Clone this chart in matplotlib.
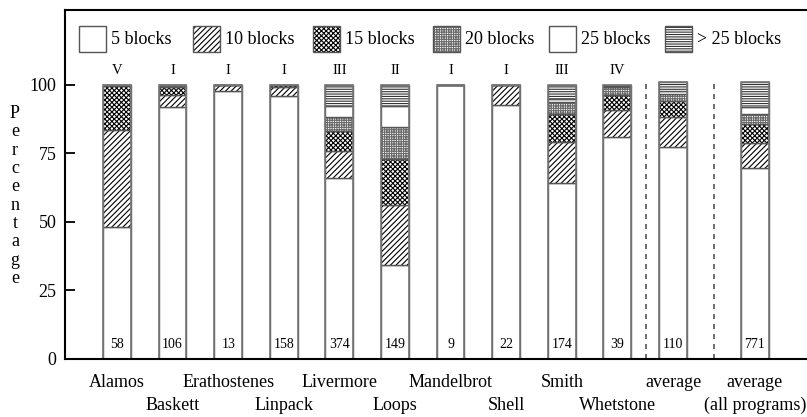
import numpy as np
import matplotlib.pyplot as plt
from matplotlib.patches import Rectangle

plt.rcParams['font.family'] = 'Liberation Serif'
plt.rcParams['hatch.linewidth'] = 0.8

programs = ['Alamos', 'Baskett', 'Erathostenes', 'Linpack', 'Livermore', 'Loops',
            'Mandelbrot', 'Shell', 'Smith', 'Whetstone', 'average', 'average\n(all programs)']
xpos = [0, 1, 2, 3, 4, 5, 6, 7, 8, 9, 10, 11.47]
classes = ['V', 'I', 'I', 'I', 'III', 'II', 'I', 'I', 'III', 'IV', '', '']
counts = [58, 106, 13, 158, 374, 149, 9, 22, 174, 39, 110, 771]

# percentage of loops per block-count class
b5 = [48.1, 91.8, 97.7, 95.8, 66.0, 34.1, 100.0, 92.6, 64.2, 81.0, 77.1, 69.4]
b10 = [35.2, 4.5, 2.3, 3.2, 9.7, 22.0, 0.0, 7.4, 14.9, 9.7, 11.2, 9.4]
b15 = [16.2, 2.7, 0.0, 1.0, 7.3, 16.8, 0.0, 0.0, 10.0, 5.5, 5.8, 6.7]
b20 = [0.5, 1.0, 0.0, 0.0, 5.3, 11.5, 0.0, 0.0, 4.4, 2.9, 2.4, 3.7]
b25 = [0.0, 0.0, 0.0, 0.0, 4.0, 7.9, 0.0, 0.0, 1.1, 0.4, 1.2, 2.7]
bmore = [0.0, 0.0, 0.0, 0.0, 7.7, 7.7, 0.0, 0.0, 5.4, 0.5, 3.2, 9.0]

series = [b5, b10, b15, b20, b25, bmore]
names = ['5 blocks', '10 blocks', '15 blocks', '20 blocks', '25 blocks', '> 25 blocks']
hatches = ['', '//////', 'xxxxxxx', '+++++++', '', '-------']
hcolors = ['white', 'black', 'black', '#6a6a6a', 'white', '#333333']

fig = plt.figure(figsize=(8.07, 4.17), dpi=100)
ax = fig.add_axes([65/807, 58.5/417, 742/807, 348.5/417])

width = 0.5
bottom = np.zeros(len(xpos))
for vals, h, hc in zip(series, hatches, hcolors):
    vals = np.array(vals)
    ax.bar(xpos, vals, width, bottom=bottom, color='white', edgecolor=hc,
           hatch=h, linewidth=0)
    ax.bar(xpos, vals, width, bottom=bottom, fill=False, edgecolor='#555555',
           linewidth=1.0)
    bottom += vals

# outline of each full bar
ax.bar(xpos, bottom, width, fill=False, edgecolor='#777777', linewidth=1.2)

for x, n, c in zip(xpos, counts, classes):
    ax.text(x, 5, str(n), ha='center', va='center', fontsize=10)
    if c:
        ax.text(x, 105.3, c, ha='center', va='center', fontsize=10.5)

for xd in [9.51, 10.74]:
    ax.plot([xd, xd], [0, 100.8], color='#555555', lw=1.2, ls=(0, (3, 3)))

# two rows of program names
for i, (x, name) in enumerate(zip(xpos, programs)):
    if '\n' in name:
        top, low = name.split('\n')
        ax.text(x, -8.9, top, ha='center', va='center', fontsize=13)
        ax.text(x, -17.0, low, ha='center', va='center', fontsize=13)
    elif i % 2 == 0 or name == 'average':
        ax.text(x, -8.9, name, ha='center', va='center', fontsize=13)
    else:
        ax.text(x, -17.0, name, ha='center', va='center', fontsize=13)

# legend row drawn by hand inside the frame
leg_x = [79, 193, 313, 433, 549, 665]
sw, sh = 27 / 742, 26 / 348.5
sy = (358.5 - 52) / 348.5
for lx, name, h, hc in zip(leg_x, names, hatches, hcolors):
    ax0 = (lx - 65) / 742
    ax.add_patch(Rectangle((ax0, sy), sw, sh, transform=ax.transAxes,
                           facecolor='white', edgecolor=hc, hatch=h, linewidth=0))
    ax.add_patch(Rectangle((ax0, sy), sw, sh, transform=ax.transAxes,
                           fill=False, edgecolor='#555555', linewidth=1.0))
    ax.text(ax0 + sw + 5 / 742, sy + sh / 2, name, transform=ax.transAxes,
            ha='left', va='center', fontsize=13)

ax.set_xlim(-0.935, 12.41)
ax.set_ylim(0, 127.2)
ax.set_xticks([])
ax.set_yticks([0, 25, 50, 75, 100])
ax.tick_params(axis='y', direction='in', length=7, width=1.3, labelsize=13, pad=6)
ax.spines['right'].set_visible(False)
for s in ['left', 'top', 'bottom']:
    ax.spines[s].set_linewidth(1.5)

fig.text(15/807, 1 - 196/417, '\n'.join('Percentage'), ha='center', va='center',
         fontsize=13, linespacing=1.1)

fig.savefig('out.png', dpi=100)
